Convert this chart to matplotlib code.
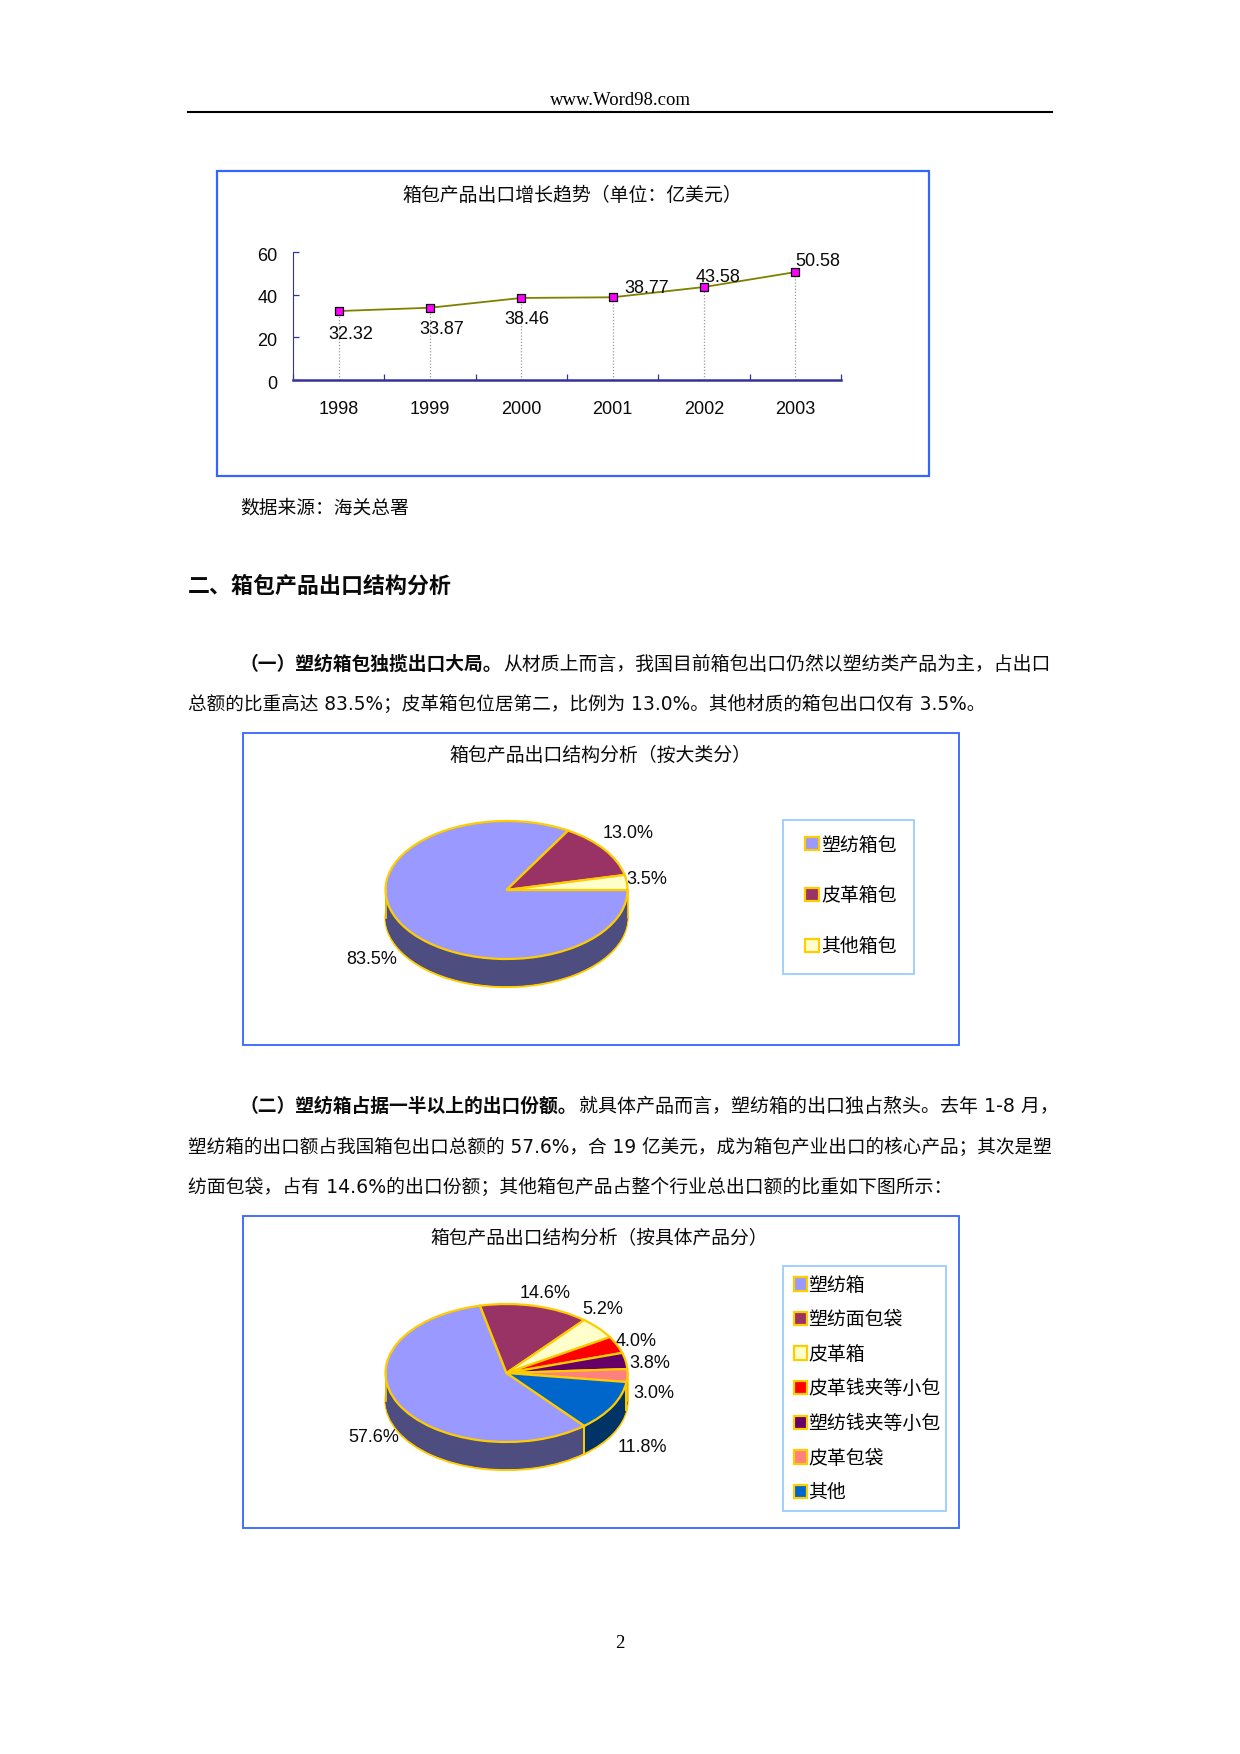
import numpy as np
import matplotlib
matplotlib.use('Agg')
import matplotlib.pyplot as plt
from matplotlib.colors import to_rgb
from matplotlib.patches import Rectangle
from matplotlib.transforms import ScaledTranslation

plt.rcParams['font.family'] = ['DejaVu Sans', 'Noto Sans CJK SC']

# data
years = ['1998', '1999', '2000', '2001', '2002', '2003']
exports = [32.32, 33.87, 38.46, 38.77, 43.58, 50.58]

big_names = ['塑纺箱包', '皮革箱包', '其他箱包']
big_share = [83.5, 13.0, 3.5]
big_colors = ['#9999FF', '#993366', '#FFFFCC']

item_names = ['塑纺箱', '塑纺面包袋', '皮革箱', '皮革钱夹等小包', '塑纺钱夹等小包', '皮革包袋', '其他']
item_share = [57.6, 14.6, 5.2, 4.0, 3.8, 3.0, 11.8]
item_colors = ['#9999FF', '#993366', '#FFFFCC', '#FF0000', '#660066', '#FF8080', '#0066CC']

W, H = 1240, 1754
CJK = ['Noto Sans CJK SC', 'DejaVu Sans']
NARROW = ['Liberation Sans', 'Noto Sans CJK SC']
EDGE = '#FFCC00'
INK = '#0A0A0A'

fig = plt.figure(figsize=(W / 100, H / 100), dpi=100, facecolor='white')
page = fig.add_axes([0, 0, 1, 1], zorder=0)
page.set_xlim(0, W)
page.set_ylim(H, 0)
page.axis('off')


def px_axes(x0, y0, x1, y1):
    ax = fig.add_axes([x0 / W, 1 - y1 / H, (x1 - x0) / W, (y1 - y0) / H], zorder=2)
    ax.patch.set_alpha(0)
    return ax


def line_text(x0, x1, y, s, weight='normal', size=13.5, family=None):
    # stretch the line to the justified width it has on the page
    t = page.text(x0, y, s, fontsize=size, weight=weight, va='center', ha='left', color=INK, family=family)
    w = t.get_window_extent(fig.canvas.get_renderer()).width
    t.set_fontsize(size * (x1 - x0) / w)
    return t


def box(x0, y0, x1, y1, color='#3366FF', lw=1.5):
    page.add_patch(Rectangle((x0, y0), x1 - x0, y1 - y0, fill=False, ec=color, lw=lw))


# header, footer
page.text(620, 100.5, 'www.Word98.com', family='Liberation Serif', fontsize=13.5, ha='center', va='center')
page.plot([188, 1052], [112, 112], color='black', lw=1.5)
page.text(620, 1644, '2', family='Liberation Serif', fontsize=13.5, ha='center', va='center')

# body text
line_text(240, 409, 508, '数据来源：海关总署')
line_text(188, 451, 586, '二、箱包产品出口结构分析', weight='bold', size=15.5)
line_text(240, 503, 664, '（一）塑纺箱包独揽出口大局。', weight='bold')
line_text(503, 1051, 664, '从材质上而言，我国目前箱包出口仍然以塑纺类产品为主，占出口')
line_text(188, 985, 704, '总额的比重高达 83.5%；皮革箱包位居第二，比例为 13.0%。其他材质的箱包出口仅有 3.5%。')
line_text(240, 578, 1106, '（二）塑纺箱占据一半以上的出口份额。', weight='bold')
line_text(579, 1060, 1106, '就具体产品而言，塑纺箱的出口独占熬头。去年 1-8 月，')
line_text(188, 1052, 1147, '塑纺箱的出口额占我国箱包出口总额的 57.6%，合 19 亿美元，成为箱包产业出口的核心产品；其次是塑')
line_text(188, 950, 1187, '纺面包袋，占有 14.6%的出口份额；其他箱包产品占整个行业总出口额的比重如下图所示：')

# line chart
box(217, 171, 929, 476, lw=1.6)
line_text(402, 742, 195, '箱包产品出口增长趋势（单位：亿美元）', family=CJK)
ax = px_axes(293, 252, 841, 380)
xs = np.arange(len(years))
ax.vlines(xs, 0, exports, color='#999999', lw=0.9, ls=(0, (1, 1.5)))
ax.plot(xs, exports, color='#808000', lw=1.3, marker='s', ms=6, mfc='#FF00FF', mec='black', mew=0.9, clip_on=False)
ax.set_xlim(-0.5, 5.5)
ax.set_ylim(0, 60)
ax.spines[['top', 'right']].set_visible(False)
ax.spines['left'].set(color='#333399', lw=0.8)
ax.spines['bottom'].set(color='#333399', lw=1.8)
ax.set_xticks(xs, years, family=NARROW, fontsize=13, color=INK)
ax.set_xticks(np.arange(-0.5, 6), minor=True)
ax.set_yticks([0, 20, 40, 60], ['0', '20', '40', '60'], family=NARROW, fontsize=13, color=INK)
ax.tick_params(axis='x', which='major', length=0, pad=15)
ax.tick_params(axis='x', which='minor', direction='in', length=4.5, width=0.9, color='#333399')
ax.tick_params(axis='y', which='major', direction='in', length=4.5, width=0.9, color='#333399', pad=11)
for lab in ax.get_yticklabels():
    lab.set_transform(lab.get_transform() + ScaledTranslation(0, -1.5 / 72, fig.dpi_scale_trans))
offsets = [(12, -23), (12, -22), (6, -22), (34, 9), (14, 10), (22, 11)]
for x, v, off in zip(xs, exports, offsets):
    ax.annotate(f'{v:.2f}', (x, v), xytext=(off[0] * 0.72, off[1] * 0.72), textcoords='offset points',
                family=NARROW, fontsize=13, ha='center', va='center', color=INK, annotation_clip=False)


def pie3d(cx, cy, shares, colors, start, names, legend_xy, spacing, textpad):
    a, b, depth = 121, 69, 28
    d = depth / b
    ax = px_axes(cx - a * 1.1, cy - b * 1.1, cx + a * 1.1, cy + b * (1.1 + d))
    dark = [tuple(np.array(to_rgb(c)) * 0.5) for c in colors]
    kw = dict(startangle=start, counterclock=False, frame=False)
    ax.pie(shares, colors=dark, center=(0, -d), wedgeprops=dict(ec=EDGE, lw=1.6), **kw)
    for off in np.linspace(d, 0, 32)[1:-1]:
        ax.pie(shares, colors=dark, center=(0, -off), wedgeprops=dict(lw=0), **kw)
    # wall edges, at both ends and at slice borders on the front
    edges = start - np.cumsum([0] + shares) * 3.6
    for ang in edges:
        if np.sin(np.radians(ang)) < -0.05:
            ux, uy = np.cos(np.radians(ang)), np.sin(np.radians(ang))
            ax.plot([ux, ux], [uy, uy - d], color=EDGE, lw=1.4)
    ax.plot([-1, -1], [0, -d], color=EDGE, lw=1.2)
    ax.plot([1, 1], [0, -d], color=EDGE, lw=1.2)
    wedges, _ = ax.pie(shares, colors=colors, wedgeprops=dict(ec=EDGE, lw=1.6), **kw)
    ax.set_aspect('auto')
    ax.set_xlim(-1.1, 1.1)
    ax.set_ylim(-1.1 - d, 1.1)
    ax.legend(wedges, names, loc='upper left', bbox_to_anchor=(legend_xy[0] / W, 1 - legend_xy[1] / H),
              bbox_transform=fig.transFigure, borderaxespad=0, borderpad=0, frameon=False,
              prop={'family': 'Noto Sans CJK SC', 'size': 13.6},
              handlelength=0.7, handleheight=0.7, handletextpad=textpad, labelspacing=spacing)
    return ax


def pct_labels(shares, spots):
    for v, pos in zip(shares, spots):
        page.text(pos[0], pos[1], f'{v:.1f}%', family=NARROW, fontsize=13, ha='center', va='center', color=INK)


# first pie
box(243, 733, 959, 1045, lw=1.3)
line_text(449, 752, 756, '箱包产品出口结构分析（按大类分）', family=CJK)
box(783, 819.5, 914, 974, color='#99CCFF', lw=1.3)
pie3d(506.5, 890, big_share, big_colors, 0, big_names, (805.5, 834.5), 1.58, 0.15)
pct_labels(big_share, [(372, 960), (628, 834), (647, 880)])

# second pie
box(243, 1216, 959, 1528, lw=1.3)
line_text(430, 768, 1239, '箱包产品出口结构分析（按具体产品分）', family=CJK)
box(783, 1266, 946, 1511, color='#99CCFF', lw=1.3)
pie3d(506.5, 1373, item_share, item_colors, -50, item_names, (794, 1274.5), 0.72, 0.05)
pct_labels(item_share, [(374, 1437), (545, 1293), (603, 1310), (636, 1341), (650, 1364), (654, 1394), (642, 1448)])

fig.savefig('out.png', dpi=100)
